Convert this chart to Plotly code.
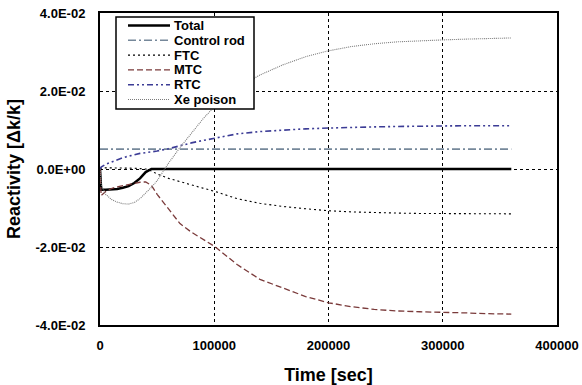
import plotly.graph_objects as go

# Time grid [sec]
time_sec = [0, 1000, 5000, 10000, 15000, 20000, 25000, 30000, 35000, 40000,
            45000, 50000, 60000, 70000, 80000, 90000, 100000, 120000, 140000,
            160000, 180000, 200000, 220000, 240000, 260000, 280000, 300000,
            320000, 340000, 360000]

# Reactivity components [dk/k]
total = [0.0, -0.0053, -0.0053, -0.0052, -0.0051, -0.0048, -0.0044, -0.0036,
         -0.0024, -0.0008, 0.0, 0.0, 0.0, 0.0, 0.0, 0.0, 0.0, 0.0, 0.0, 0.0,
         0.0, 0.0, 0.0, 0.0, 0.0, 0.0, 0.0, 0.0, 0.0, 0.0]

control_rod = [0.0051] * len(time_sec)

ftc = [0.0, 0.0002, 0.0003, 0.0003, 0.0002, 0.0002, 0.0002, 0.0002, 0.0001,
       0.0, -0.0005, -0.0013, -0.0024, -0.0033, -0.0041, -0.0049, -0.0057,
       -0.0076, -0.0088, -0.0096, -0.0102, -0.0107, -0.0110, -0.0112,
       -0.0113, -0.0114, -0.0114, -0.0115, -0.0115, -0.0115]

mtc = [0.0, -0.0068, -0.0058, -0.0050, -0.0046, -0.0043, -0.0040, -0.0037,
       -0.0034, -0.0033, -0.0042, -0.0065, -0.0104, -0.0140, -0.0162,
       -0.0180, -0.0198, -0.0245, -0.0283, -0.0305, -0.0327, -0.0343,
       -0.0353, -0.0360, -0.0364, -0.0366, -0.0367, -0.0369, -0.0371, -0.0372]

rtc = [0.0, 0.0005, 0.0012, 0.0018, 0.0024, 0.0029, 0.0033, 0.0037, 0.0040,
       0.0042, 0.0044, 0.0046, 0.0052, 0.0060, 0.0067, 0.0073, 0.0079,
       0.0090, 0.0096, 0.0100, 0.0103, 0.0105, 0.0107, 0.0108, 0.0109,
       0.0110, 0.0110, 0.0111, 0.0111, 0.0111]

xe_poison = [0.0, -0.0040, -0.0065, -0.0078, -0.0085, -0.0089, -0.0090,
             -0.0086, -0.0076, -0.0062, -0.0047, -0.0030, 0.0015, 0.0055,
             0.0092, 0.0128, 0.0160, 0.0207, 0.0241, 0.0267, 0.0288, 0.0303,
             0.0314, 0.0321, 0.0326, 0.0329, 0.0331, 0.0333, 0.0335, 0.0336]

x_ticks = [0, 100000, 200000, 300000, 400000]
y_ticks = [-0.04, -0.02, 0.0, 0.02, 0.04]
y_tick_labels = ["-4.0E-02", "-2.0E-02", "0.0E+00", "2.0E-02", "4.0E-02"]

series = [
    ("Total", total, dict(color="black", width=2.5, dash="solid")),
    ("Control rod", control_rod, dict(color="#76889a", width=1.6, dash="8px,3px,2px,3px")),
    ("FTC", ftc, dict(color="black", width=1.1, dash="2px,3px")),
    ("MTC", mtc, dict(color="#7a3a3a", width=1.3, dash="6px,3px")),
    ("RTC", rtc, dict(color="#3c3c96", width=1.6, dash="6px,3px,2px,3px,2px,3px")),
    ("Xe poison", xe_poison, dict(color="#7a7a7a", width=1.1, dash="1px,1px")),
]

fig = go.Figure()
for name, values, line in series:
    fig.add_trace(go.Scatter(x=time_sec, y=values, mode="lines", name=name,
                             line=line, showlegend=False))

font_family = "Liberation Sans, Arial, sans-serif"

# Plot-area geometry in pixels, used to place the boxed key in paper units
W, H = 582, 385
ML, MR, MT, MB = 100, 25, 13, 60
plot_w = W - ML - MR
plot_h = H - MT - MB


def px_x(px):
    return (px - ML) / plot_w


def px_y(py):
    return (H - MB - py) / plot_h


# Boxed key in the upper-left corner of the plot
key_left, key_right, key_top, key_bottom = 116, 254, 17, 109
sample_x0, sample_x1, label_x = 128, 170, 172
row_y0, row_step = 25.5, 14.8

shapes = [dict(type="rect", xref="paper", yref="paper", layer="above",
               x0=px_x(key_left), x1=px_x(key_right),
               y0=px_y(key_bottom), y1=px_y(key_top),
               fillcolor="white", line=dict(color="black", width=1.5))]
annotations = []
for i, (name, _, line) in enumerate(series):
    ry = row_y0 + i * row_step
    shapes.append(dict(type="line", xref="paper", yref="paper", layer="above",
                       x0=px_x(sample_x0), x1=px_x(sample_x1),
                       y0=px_y(ry), y1=px_y(ry),
                       line=dict(color=line["color"], width=line["width"],
                                 dash=line["dash"])))
    annotations.append(dict(xref="paper", yref="paper", x=px_x(label_x),
                            y=px_y(ry), xanchor="left", yanchor="middle",
                            text=name, showarrow=False,
                            font=dict(family=font_family, size=13,
                                      color="black", weight="bold")))

fig.update_layout(
    width=W, height=H,
    margin=dict(l=ML, r=MR, t=MT, b=MB),
    paper_bgcolor="white", plot_bgcolor="white",
    font=dict(family=font_family, size=12, color="black", weight="bold"),
    showlegend=False,
    shapes=shapes,
    annotations=annotations,
    xaxis=dict(
        range=[0, 400000], tickvals=x_ticks,
        ticktext=[str(v) for v in x_ticks],
        showgrid=True, gridcolor="black", gridwidth=1, griddash="3px,3px",
        zeroline=False, showline=True, linecolor="black", linewidth=2,
        mirror=True, ticks="", ticklabelstandoff=7, automargin=False,
        tickfont=dict(size=13, weight="bold"),
        title=dict(text="Time [sec]", font=dict(size=18, weight="bold"),
                   standoff=17),
    ),
    yaxis=dict(
        range=[-0.04, 0.04], tickvals=y_ticks, ticktext=y_tick_labels,
        showgrid=True, gridcolor="black", gridwidth=1, griddash="3px,3px",
        zeroline=False, showline=True, linecolor="black", linewidth=2,
        mirror=True, ticks="", ticklabelstandoff=10, automargin=False,
        tickfont=dict(size=13, weight="bold"),
        title=dict(text="Reactivity [Δk/k]", font=dict(size=18, weight="bold"),
                   standoff=10),
    ),
)

fig.write_html("out.html")
